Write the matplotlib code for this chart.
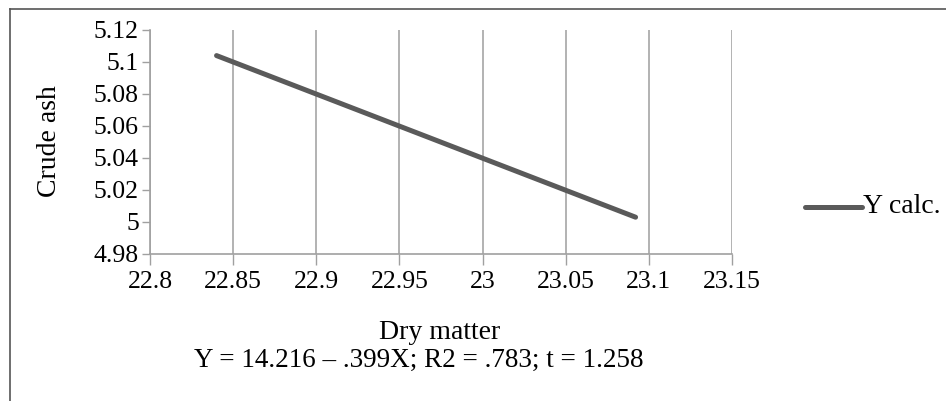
import matplotlib.pyplot as plt
from matplotlib.lines import Line2D

# Data
dry_matter = [22.84, 23.092]
y_calc = [5.104, 5.003]
x_ticks = [22.8, 22.85, 22.9, 22.95, 23.0, 23.05, 23.1, 23.15]
x_tick_labels = ["22.8", "22.85", "22.9", "22.95", "23", "23.05", "23.1", "23.15"]
y_ticks = [4.98, 5.0, 5.02, 5.04, 5.06, 5.08, 5.1, 5.12]
y_tick_labels = ["4.98", "5", "5.02", "5.04", "5.06", "5.08", "5.1", "5.12"]
series_name = "Y calc."
equation = "Y = 14.216 \u2013 .399X; R2 = .783; t = 1.258"

plt.rcParams['font.family'] = ['Liberation Serif', 'DejaVu Serif']

fig = plt.figure(figsize=(9.46, 4.01), dpi=100)
ax = fig.add_axes([0.1586, 0.3666, 0.6152, 0.5586])

ax.plot(dry_matter, y_calc, color='#5a5a5a', linewidth=3.6, solid_capstyle='round')

ax.set_xlim(22.8, 23.15)
ax.set_ylim(4.98, 5.12)
ax.set_xticks(x_ticks)
ax.set_xticklabels(x_tick_labels, fontsize=18.5)
ax.set_yticks(y_ticks)
ax.set_yticklabels(y_tick_labels, fontsize=18.5)
ax.tick_params(axis='x', length=8, width=1, color='#a0a0a0', pad=4)
ax.tick_params(axis='y', length=6, width=1, color='#a0a0a0', pad=2)

ax.grid(axis='x', color='#a6a6a6', linewidth=1.2)
ax.set_axisbelow(True)
for side in ['top', 'right']:
    ax.spines[side].set_visible(False)
for side in ['left', 'bottom']:
    ax.spines[side].set_color('#a0a0a0')
    ax.spines[side].set_linewidth(1.2)

ax.set_ylabel("Crude ash", fontsize=20, va='center')
ax.yaxis.set_label_coords(-0.172, 0.504)
ax.set_xlabel("Dry matter", fontsize=20, va='center')
ax.xaxis.set_label_coords(0.498, -0.352)
fig.text(0.443, 0.102, equation, fontsize=19.5, ha='center', va='center')

# legend drawn by hand to the right of the plot
fig.add_artist(Line2D([0.851, 0.911], [0.484, 0.484], color='#5a5a5a',
                      linewidth=3.6, solid_capstyle='round'))
fig.text(0.912, 0.484, series_name, fontsize=20, ha='left', va='center')

# outer frame: top and left edges
fig.add_artist(Line2D([0.0106, 1.0], [0.978, 0.978], color='#555555', linewidth=1.2))
fig.add_artist(Line2D([0.0106, 0.0106], [0.0, 0.978], color='#555555', linewidth=1.2))

fig.savefig('out.png', dpi=100)
